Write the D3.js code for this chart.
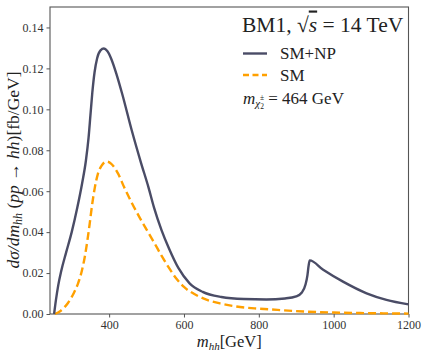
<!DOCTYPE html>
<html>
<head>
<meta charset="UTF-8">
<script src="https://d3js.org/d3.v7.min.js"></script>
<style>
  body { margin: 0; background: #fff; }
  text { font-family: "Liberation Serif", "DejaVu Serif", serif; }
</style>
</head>
<body>
<div id="chart"></div>
<script>
// data: m_hh [GeV], dsigma/dm [fb/GeV]
const mNP = [253, 258, 264, 272, 285, 300, 315, 328, 338, 345, 350, 355, 361, 368, 377, 386, 395, 405, 420, 435, 460, 485, 505, 520, 540, 560, 585, 615, 650, 700, 760, 820, 870, 900, 915, 925, 930, 933, 936, 972, 1025, 1088, 1141, 1200];
const vNP = [0, 0.007, 0.014, 0.021, 0.030, 0.040, 0.052, 0.064, 0.075, 0.086, 0.097, 0.108, 0.118, 0.125, 0.1288, 0.1297, 0.1285, 0.125, 0.117, 0.1075, 0.090, 0.074, 0.062, 0.052, 0.041, 0.032, 0.0225, 0.015, 0.0108, 0.0083, 0.0073, 0.0071, 0.0076, 0.0086, 0.0105, 0.0145, 0.019, 0.0235, 0.0262, 0.0216, 0.0158, 0.0101, 0.0069, 0.0047];
const mSM = [255, 270, 290, 305, 317, 327, 335, 342, 348, 355, 362, 370, 380, 393, 405, 424, 440, 460, 482, 504, 520, 540, 560, 580, 600, 630, 660, 700, 750, 800, 850, 920, 1000, 1100, 1200];
const vSM = [0, 0.0015, 0.0054, 0.010, 0.015, 0.021, 0.028, 0.036, 0.044, 0.054, 0.062, 0.0685, 0.0725, 0.0745, 0.0735, 0.0686, 0.062, 0.0545, 0.047, 0.040, 0.035, 0.0285, 0.0225, 0.0172, 0.0132, 0.0095, 0.007, 0.005, 0.0034, 0.0026, 0.002, 0.0012, 0.0007, 0.0004, 0.0002];
const xTicks = [400, 600, 800, 1000, 1200];
const yTicks = [0, 0.02, 0.04, 0.06, 0.08, 0.10, 0.12, 0.14];

const W = 427, H = 356;
const margin = {top: 7, right: 18.5, bottom: 42, left: 50};
const w = W - margin.left - margin.right;
const h = H - margin.top - margin.bottom;
const serif = "'Liberation Serif', 'DejaVu Serif', serif";

const svg = d3.select("#chart").append("svg")
  .attr("width", W).attr("height", H);
const g = svg.append("g").attr("transform", `translate(${margin.left},${margin.top})`);

const x = d3.scaleLinear().domain([242, 1200]).range([0, w]);
const y = d3.scaleLinear().domain([0, 0.15]).range([h, 0]);

// axes
const xa = g.append("g").attr("transform", `translate(0,${h})`)
  .call(d3.axisBottom(x).tickValues(xTicks).tickSize(3.5).tickPadding(2.5).tickFormat(d3.format("d")));
const ya = g.append("g")
  .call(d3.axisLeft(y).tickValues(yTicks).tickSize(3.5).tickPadding(3).tickFormat(d3.format(".2f")));
[xa, ya].forEach(a => {
  a.attr("font-family", serif).attr("font-size", 12);
  a.select(".domain").remove();
  a.selectAll("line").attr("stroke", "#555");
  a.selectAll("text").attr("fill", "#333");
});

// frame
g.append("rect").attr("width", w).attr("height", h)
  .attr("fill", "none").attr("stroke", "#555").attr("stroke-width", 1.1);

const line = d3.line().x(d => x(d[0])).y(d => y(d[1])).curve(d3.curveMonotoneX);

g.append("path").datum(d3.zip(mSM, vSM)).attr("d", line)
  .attr("fill", "none").attr("stroke", "#ffa000").attr("stroke-width", 2.4)
  .attr("stroke-dasharray", "8,4");
g.append("path").datum(d3.zip(mNP, vNP)).attr("d", line)
  .attr("fill", "none").attr("stroke", "#4a4c66").attr("stroke-width", 2.4);

// legend
const lg = svg.append("g");
const title = lg.append("text").attr("x", 242).attr("y", 31.5).style("font-size", "21.5px").attr("fill", "#222");
title.append("tspan").text("BM1, √");
title.append("tspan").style("font-style", "italic").style("text-decoration", "overline").text("s");
title.append("tspan").text(" = 14 TeV");

lg.append("line").attr("x1", 243).attr("x2", 267).attr("y1", 53.5).attr("y2", 53.5)
  .attr("stroke", "#4a4c66").attr("stroke-width", 2.4);
lg.append("text").attr("x", 280).attr("y", 59).style("font-size", "17px").attr("fill", "#222").text("SM+NP");
lg.append("line").attr("x1", 243).attr("x2", 267).attr("y1", 75).attr("y2", 75)
  .attr("stroke", "#ffa000").attr("stroke-width", 2.4).attr("stroke-dasharray", "6,3.5");
lg.append("text").attr("x", 280).attr("y", 81).style("font-size", "17px").attr("fill", "#222").text("SM");

const mt = lg.append("text").attr("x", 243).attr("y", 104).style("font-size", "17px").attr("fill", "#222");
mt.append("tspan").style("font-style", "italic").text("m");
mt.append("tspan").style("font-style", "italic").style("font-size", "11px").attr("dy", 3).text("χ");
mt.append("tspan").style("font-size", "7.5px").attr("dy", 2).text("2");
mt.append("tspan").style("font-size", "7.5px").attr("dx", -4).attr("dy", -9).text("±");
mt.append("tspan").attr("dy", 4).text(" = 464 GeV");

// axis labels
const xl = svg.append("text").attr("x", margin.left + w / 2).attr("y", 347)
  .attr("text-anchor", "middle").style("font-size", "16.5px").attr("fill", "#222");
xl.append("tspan").style("font-style", "italic").text("m");
xl.append("tspan").style("font-style", "italic").style("font-size", "11px").attr("dy", 3).text("hh");
xl.append("tspan").attr("dy", -3).text("[GeV]");

const yl = svg.append("text").attr("transform", "translate(19,170) rotate(-90)")
  .attr("text-anchor", "middle").style("font-size", "17.5px").attr("fill", "#222");
yl.append("tspan").style("font-style", "italic").text("dσ/dm");
yl.append("tspan").style("font-style", "italic").style("font-size", "12px").attr("dy", 3).text("hh");
yl.append("tspan").attr("dy", -3).text(" (");
yl.append("tspan").style("font-style", "italic").text("pp");
yl.append("tspan").text(" → ");
yl.append("tspan").style("font-style", "italic").text("hh");
yl.append("tspan").text(")[fb/GeV]");
</script>
</body>
</html>
